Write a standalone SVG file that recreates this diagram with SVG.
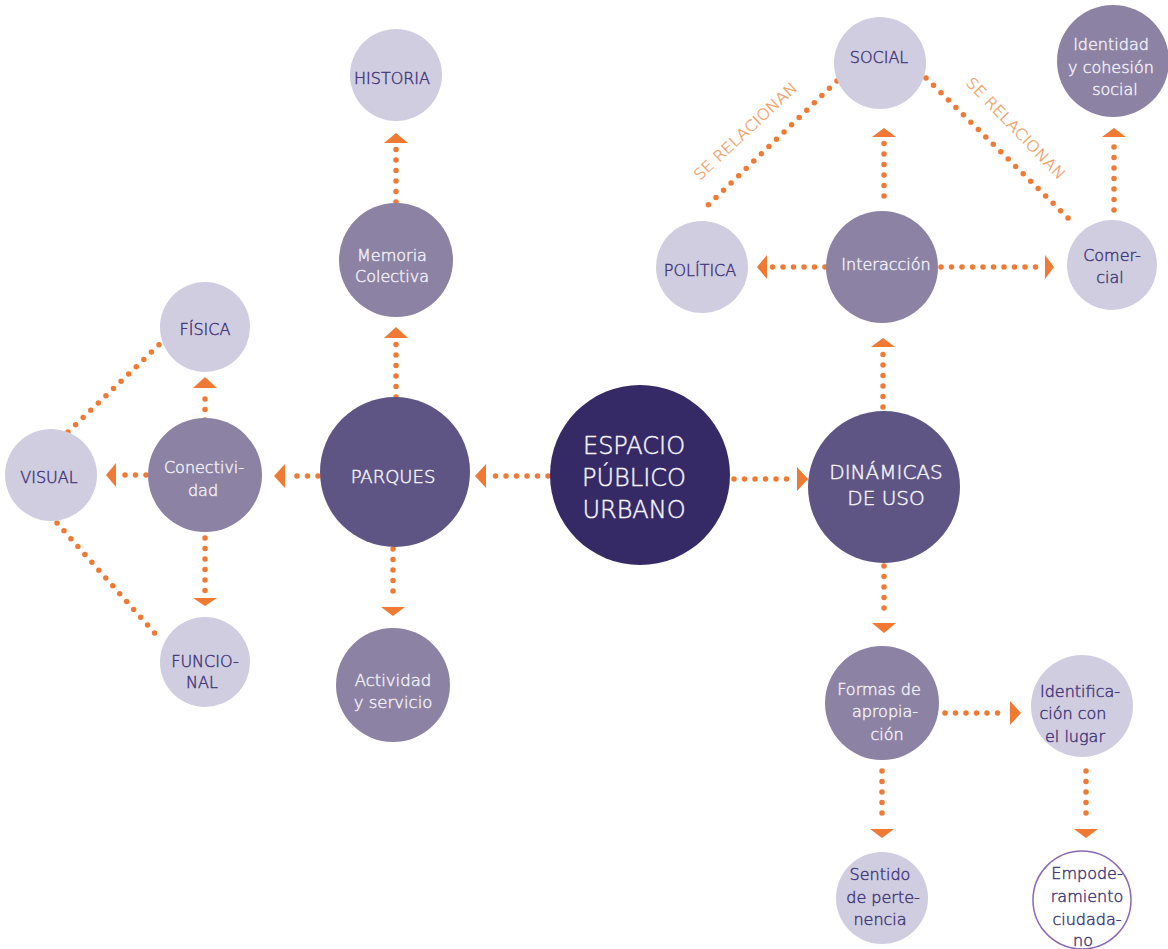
<svg xmlns="http://www.w3.org/2000/svg" width="1168" height="949" viewBox="0 0 1168 949">
<style>
.dot{stroke:#f07a33;stroke-width:5.5;stroke-linecap:round;stroke-dasharray:0 10.5;fill:none}
.ah{fill:#f07a33}
.c0{fill:#352a66}
.c1{fill:#5f5585}
.c2{fill:#8c82a4}
.c3{fill:#d0cde0}
.c4{fill:#ffffff;stroke:#8a68b4;stroke-width:1.5}
text{font-family:"DejaVu Sans","Liberation Sans",sans-serif;font-weight:200;text-anchor:middle;stroke-width:0.45}
.tw{fill:#f6f4fa;stroke:#f6f4fa}
.tl{fill:#f1eff6;stroke:#f1eff6}
.td{fill:#43387a;stroke:#43387a}
.lab{fill:#f29a5e;stroke:#f29a5e;stroke-width:0.3;font-size:15px}
</style>
<rect width="1168" height="949" fill="#ffffff"/>
<g id="connectors">
<line class="dot" x1="548" y1="476" x2="494" y2="476"/><polygon class="ah" points="475,476 486,464 486,488"/>
<line class="dot" x1="734" y1="479" x2="790" y2="479"/><polygon class="ah" points="808,479 797,467 797,491"/>
<line class="dot" x1="318" y1="476" x2="290" y2="476"/><polygon class="ah" points="274,476 285,464 285,488"/>
<line class="dot" x1="146" y1="475" x2="120" y2="475"/><polygon class="ah" points="106,475 116,463 116,487"/>
<line class="dot" x1="205" y1="420" x2="205" y2="391"/><polygon class="ah" points="205,377 193,388 217,388"/>
<line class="dot" x1="205" y1="538" x2="205" y2="592"/><polygon class="ah" points="205,606 193,598 217,598"/>
<line class="dot" x1="68" y1="432" x2="162" y2="342"/>
<line class="dot" x1="57" y1="523" x2="159" y2="638"/>
<line class="dot" x1="396" y1="397" x2="396" y2="343"/><polygon class="ah" points="396,327 384,338 408,338"/>
<line class="dot" x1="396" y1="202" x2="396" y2="148"/><polygon class="ah" points="396,133 384,143 408,143"/>
<line class="dot" x1="393" y1="549" x2="393" y2="601"/><polygon class="ah" points="393,616 381,607 405,607"/>
<line class="dot" x1="883" y1="407" x2="883" y2="352"/><polygon class="ah" points="883,338 871,347 895,347"/>
<line class="dot" x1="884" y1="566" x2="884" y2="618"/><polygon class="ah" points="884,633 872,623 896,623"/>
<line class="dot" x1="884" y1="196" x2="884" y2="143"/><polygon class="ah" points="884,128 872,137 896,137"/>
<line class="dot" x1="825" y1="267" x2="771" y2="267"/><polygon class="ah" points="757,267 767,255 767,279"/>
<line class="dot" x1="941" y1="267" x2="1040" y2="267"/><polygon class="ah" points="1054,267 1045,255 1045,279"/>
<line class="dot" x1="1114" y1="210" x2="1114" y2="143"/><polygon class="ah" points="1114,128 1102,137 1126,137"/>
<line class="dot" x1="837" y1="81" x2="703" y2="210"/>
<line class="dot" x1="926" y1="78" x2="1073" y2="223"/>
<line class="dot" x1="945" y1="713" x2="1002" y2="713"/><polygon class="ah" points="1021,713 1010,701 1010,725"/>
<line class="dot" x1="882" y1="771" x2="882" y2="823"/><polygon class="ah" points="882,838 870,829 894,829"/>
<line class="dot" x1="1086" y1="771" x2="1086" y2="823"/><polygon class="ah" points="1086,838 1074,829 1098,829"/>
<text class="lab" transform="translate(749,135) rotate(-43)" textLength="135" lengthAdjust="spacingAndGlyphs">SE RELACIONAN</text>
<text class="lab" transform="translate(1012,132) rotate(46)" textLength="135" lengthAdjust="spacingAndGlyphs">SE RELACIONAN</text>
</g>
<g id="espacio"><circle class="c0" cx="640" cy="475" r="90"/>
<text class="tw" font-size="24" x="634" y="454">ESPACIO</text><text class="tw" font-size="24" x="634" y="486">PÚBLICO</text><text class="tw" font-size="24" x="634" y="518">URBANO</text></g>
<g id="dinamicas"><circle class="c1" cx="884" cy="487" r="76"/>
<text class="tw" font-size="20" x="886" y="479">DINÁMICAS</text><text class="tw" font-size="20" x="886" y="505">DE USO</text></g>
<g id="parques"><circle class="c1" cx="395" cy="472" r="75"/>
<text class="tw" font-size="18" x="393" y="483">PARQUES</text></g>
<g id="actividad"><circle class="c2" cx="393" cy="685" r="57"/>
<text class="tl" font-size="16.5" x="393" y="686">Actividad</text><text class="tl" font-size="16.5" x="393" y="708">y servicio</text></g>
<g id="memoria"><circle class="c2" cx="396" cy="260" r="57"/>
<text class="tl" font-size="16" x="392" y="261">Memoria</text><text class="tl" font-size="16" x="392" y="282">Colectiva</text></g>
<g id="historia"><circle class="c3" cx="396" cy="75" r="46"/>
<text class="td" font-size="16" x="392" y="84">HISTORIA</text></g>
<g id="conectividad"><circle class="c2" cx="205" cy="475" r="57"/>
<text class="tl" font-size="16" x="204" y="473">Conectivi-</text><text class="tl" font-size="16" x="203" y="496">dad</text></g>
<g id="fisica"><circle class="c3" cx="205" cy="327" r="45"/>
<text class="td" font-size="16" x="205" y="335">FÍSICA</text></g>
<g id="visual"><circle class="c3" cx="51" cy="475" r="46"/>
<text class="td" font-size="16" x="49" y="483">VISUAL</text></g>
<g id="funcional"><circle class="c3" cx="205" cy="662" r="45"/>
<text class="td" font-size="16" x="205" y="667">FUNCIO-</text><text class="td" font-size="16" x="202" y="688">NAL</text></g>
<g id="social"><circle class="c3" cx="880" cy="63" r="46"/>
<text class="td" font-size="16" x="879" y="63">SOCIAL</text></g>
<g id="identidad"><circle class="c2" cx="1113" cy="61" r="56"/>
<text class="tl" font-size="16" x="1111" y="50">Identidad</text><text class="tl" font-size="16" x="1111" y="73">y cohesión</text><text class="tl" font-size="16" x="1115" y="95">social</text></g>
<g id="politica"><circle class="c3" cx="702" cy="267" r="46"/>
<text class="td" font-size="16" x="700" y="276">POLÍTICA</text></g>
<g id="interaccion"><circle class="c2" cx="882" cy="267" r="56"/>
<text class="tl" font-size="16" x="886" y="270">Interacción</text></g>
<g id="comercial"><circle class="c3" cx="1112" cy="265" r="45"/>
<text class="td" font-size="16" x="1112" y="261">Comer-</text><text class="td" font-size="16" x="1110" y="283">cial</text></g>
<g id="formas"><circle class="c2" cx="882" cy="703" r="57"/>
<text class="tl" font-size="16" x="879" y="695">Formas de</text><text class="tl" font-size="16" x="885" y="717">apropia-</text><text class="tl" font-size="16" x="887" y="740">ción</text></g>
<g id="identificacion"><circle class="c3" cx="1082" cy="706" r="51"/>
<text class="td" font-size="16" x="1080" y="697">Identifica-</text><text class="td" font-size="16" x="1073" y="719">ción con</text><text class="td" font-size="16" x="1075" y="742">el lugar</text></g>
<g id="sentido"><circle class="c3" cx="882" cy="898" r="46"/>
<text class="td" font-size="16" x="880" y="880">Sentido</text><text class="td" font-size="16" x="883" y="903">de perte-</text><text class="td" font-size="16" x="880" y="925">nencia</text></g>
<g id="empoderamiento"><circle class="c4" cx="1082" cy="900" r="49"/>
<text class="td" font-size="16" x="1087" y="879">Empode-</text><text class="td" font-size="16" x="1087" y="902">ramiento</text><text class="td" font-size="16" x="1087" y="925">ciudada-</text><text class="td" font-size="16" x="1083" y="946">no</text></g>
</svg>
